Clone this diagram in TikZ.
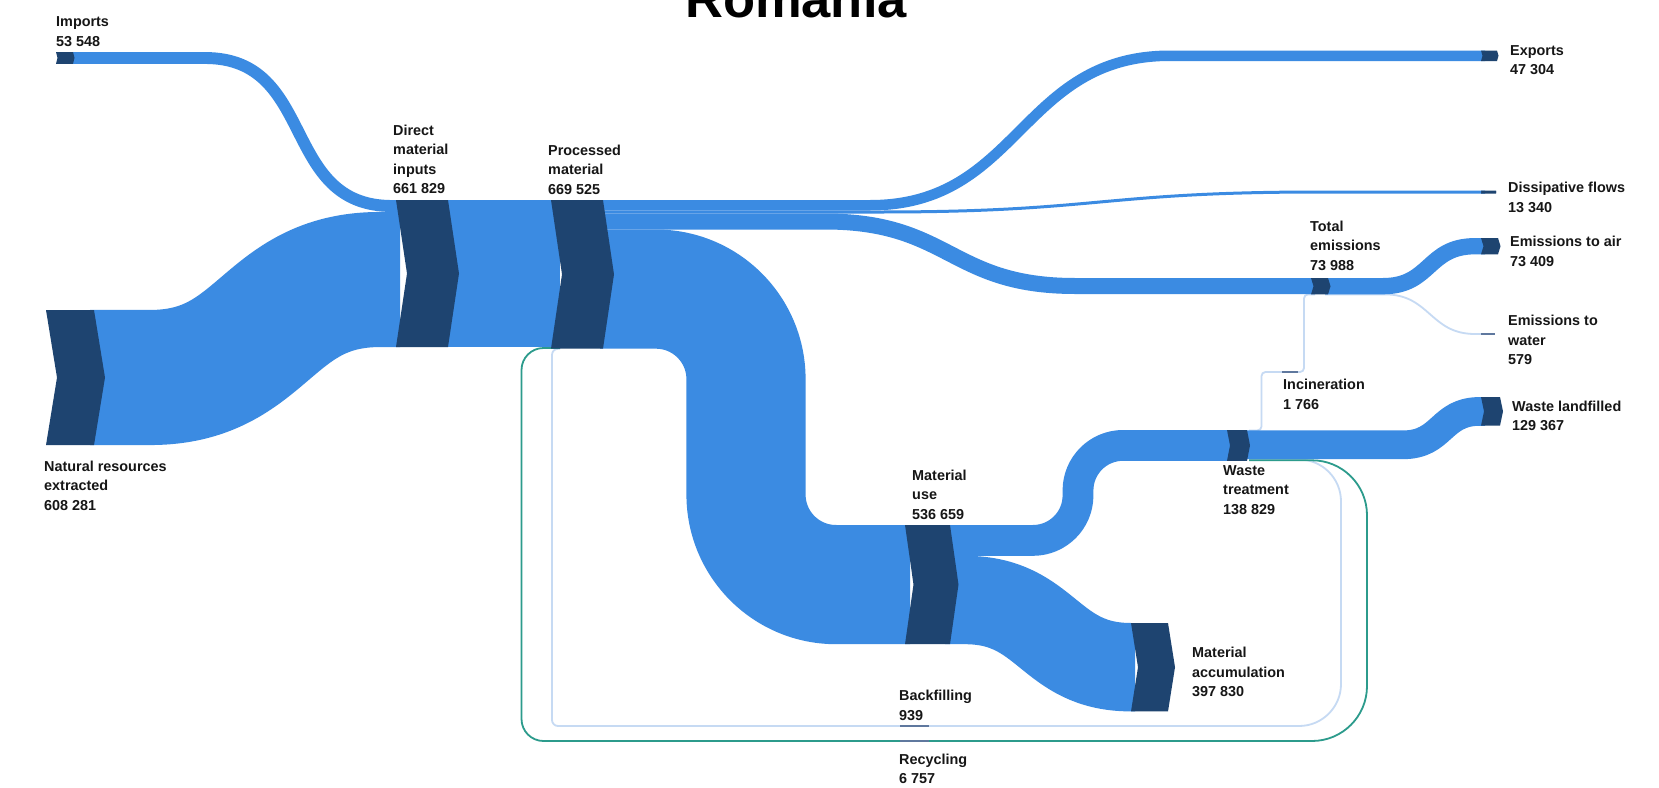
\documentclass[tikz,border=0pt]{standalone}
\usepackage{fontspec}
\setmainfont{Liberation Sans}
\definecolor{flowc}{RGB}{59,139,226}
\definecolor{barc}{RGB}{30,68,112}
\definecolor{lightc}{RGB}{198,218,243}
\definecolor{greenc}{RGB}{44,155,140}
\definecolor{thinc}{RGB}{95,120,158}
\definecolor{txt}{RGB}{22,22,22}
\newcommand\labfont{\fontsize{14.4pt}{19.5pt}\selectfont\bfseries}
\newcommand\chev[5]{\fill[barfill] (#1,#2) -- ++(#3,0) -- ++(#5,{#4/2}) -- ++(-#5,{#4/2}) -- ++(-#3,0) -- ++(#5,{-#4/2}) -- cycle;}
\newcommand\lab[4]{\node[lab] (#1) at (#2,{#3-12}) {\rule{0pt}{12pt}#4};}
\begin{document}
\begin{tikzpicture}[x=1pt,y=-1pt,
  flow/.style={draw=flowc, line cap=butt, line join=round},
  lightln/.style={draw=lightc, line width=1.8pt},
  recyc/.style={draw=greenc, line width=1.8pt},
  barfill/.style={fill=barc},
  thinbar/.style={fill=thinc},
  lab/.style={anchor=north west, inner sep=0pt, align=left, font=\labfont, text=txt},
  ttl/.style={anchor=base, inner sep=0pt, font=\fontsize{52.5pt}{60pt}\selectfont\bfseries, text=black}]
\useasboundingbox (0,0) rectangle (1659,787);
\fill[white] (0,0) rectangle (1659,787);

% ---- thin links (drawn first, under the bands)
\draw[lightln] (1325,294.4) -- (1385,294.4) .. controls +(45,0) and +(-45,0) .. (1475,334) -- (1485,334);
\draw[lightln, rounded corners=4pt] (1249,430.4) -- (1261.5,430.4) -- (1261.5,372) -- (1285,372);
\draw[lightln, rounded corners=4pt] (1296,372) -- (1304,372) -- (1304,294.4) -- (1315,294.4);
\draw[lightln, rounded corners=42pt] (1249,459.5) -- (1341,459.5) -- (1341,726) -- (929,726);
\draw[lightln, rounded corners=6pt] (900,726) -- (552,726) -- (552,348.8) -- (560,348.8);
\draw[recyc, rounded corners=55pt] (1249,460.3) -- (1367,460.3) -- (1367,741) -- (929,741);
\draw[recyc, rounded corners=22pt] (900,741) -- (521.5,741) -- (521.5,348) -- (560,348);

% ---- bands
\draw[flow, line width=11.9pt] (70,58) -- (205,58) .. controls +(112,0) and +(-112,0) .. (392,206) -- (400,206);
\draw[flow, line width=135.1pt] (90,377.5) -- (150,377.5) .. controls +(115,0) and +(-115,0) .. (380,279.5) -- (400,279.5);
\fill[flowc] (440,200) rectangle (560,347);
\draw[flow, line width=10.5pt] (600,205.25) -- (870,205.25) .. controls +(150,0) and +(-150,0) .. (1170,55.75) -- (1485,55.75);
\draw[flow, line width=3pt] (600,212) -- (880,212) .. controls +(220,0) and +(-220,0) .. (1320,192) -- (1485,192);
\draw[flow, line width=16pt] (600,221.5) -- (825,221.5) .. controls +(125,0) and +(-125,0) .. (1075,286) -- (1315,286);
\draw[flow, line width=119.2pt, rounded corners=90pt] (600,289.1) -- (746,289.1) -- (746,584.6) -- (910,584.6);
\draw[flow, line width=30.8pt, rounded corners=45pt] (945,540.4) -- (1078,540.4) -- (1078,445.4) -- (1230,445.4);
\draw[flow, line width=88.4pt] (945,600) -- (965,600) .. controls +(83,0) and +(-83,0) .. (1131,667.2) -- (1135,667.2);
\draw[flow, line width=28.7pt] (1245,444.8) -- (1403,444.8) .. controls +(40,0) and +(-40,0) .. (1480,411.4) -- (1485,411.4);
\draw[flow, line width=16.3pt] (1325,286.15) -- (1383,286.15) .. controls +(48,0) and +(-48,0) .. (1475,246.2) -- (1485,246.2);

% ---- node bars
\chev{56}{52}{17}{11.9}{1.5}
\chev{46}{310}{48}{135.1}{11}
\chev{396}{200}{52}{147}{11}
\chev{551}{200}{52}{148.7}{11}
\chev{905}{525}{45}{119.2}{8.5}
\chev{1131}{623}{37}{88.4}{7}
\chev{1227}{430}{20}{30.8}{3}
\chev{1311}{278}{17}{16.4}{2.5}
\chev{1481}{50.5}{16}{10.5}{1.5}
\chev{1481}{190.5}{15}{3}{0.3}
\chev{1481}{238}{17}{16.3}{2.5}
\chev{1481}{397}{19}{28.7}{3}
\fill[thinbar] (1481,333.3) rectangle (1495,334.8);
\fill[thinbar] (1282,371.3) rectangle (1298,372.8);
\fill[thinbar] (900,725.2) rectangle (929,726.8);
\fill[thinbar] (900,740.2) rectangle (929,741.8);

% ---- labels
\lab{limp}{56}{26.5}{Imports\\53 548}
\lab{ldmi}{393}{135}{Direct\\material\\inputs\\661 829}
\lab{lpm}{548}{155}{Processed\\material\\669 525}
\lab{lnr}{44}{471}{Natural resources\\extracted\\608 281}
\lab{lmu}{912}{480}{Material\\use\\536 659}
\lab{lwt}{1223}{475}{Waste\\treatment\\138 829}
\lab{lma}{1192}{657.7}{Material\\accumulation\\397 830}
\lab{lbf}{899}{700.5}{Backfilling\\939}
\lab{lrc}{899}{764}{Recycling\\6 757}
\lab{linc}{1283}{389.3}{Incineration\\1 766}
\lab{lte}{1310}{231}{Total\\emissions\\73 988}
\lab{lexp}{1510}{55}{Exports\\47 304}
\lab{ldis}{1508}{192.5}{Dissipative flows\\13 340}
\lab{lair}{1510}{246.7}{Emissions to air\\73 409}
\lab{lwat}{1508}{325.7}{Emissions to\\water\\579}
\lab{llf}{1512}{411}{Waste landfilled\\129 367}
\node[ttl] (title) at (796,17.3) {Romania};
\end{tikzpicture}
\end{document}
